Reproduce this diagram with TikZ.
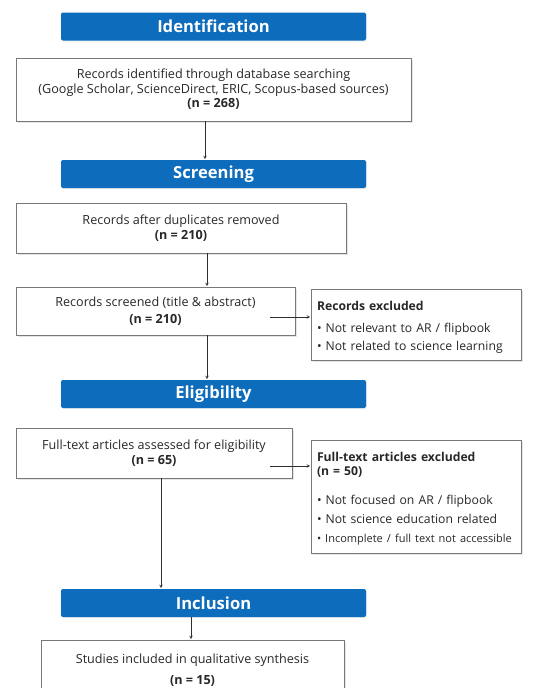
\documentclass[tikz,border=0pt]{standalone}
\usepackage{fontspec}
\setmainfont{Open Sans}
\usetikzlibrary{positioning, arrows, shadows}
\usepackage{xcolor}
\definecolor{prismablue}{RGB}{14,108,188}
\definecolor{edgegray}{RGB}{120,120,120}
\definecolor{linegray}{RGB}{45,45,45}
\definecolor{inkgray}{RGB}{40,40,40}

\begin{document}
\begin{tikzpicture}[
    x=1pt,
    y=-1pt,
    >=stealth,
    semithick,
    font=\fontsize{12.6}{14.5}\selectfont
]

\tikzstyle{phase}=[
    fill=prismablue,
    rounded corners=2pt,
    minimum width=305pt,
    minimum height=28pt,
    text=white,
    font=\fontsize{16.6}{18}\selectfont\bfseries,
    drop shadow={opacity=0.15, shadow xshift=1pt, shadow yshift=-1pt}
]
\tikzstyle{record}=[
    draw=edgegray,
    fill=white,
    line width=0.6pt,
    text=inkgray,
    align=center,
    inner sep=0pt,
    drop shadow={opacity=0.2, shadow xshift=1.5pt, shadow yshift=-1.5pt}
]
\tikzstyle{excluded}=[
    record,
    align=left,
    text width=198pt,
    inner xsep=6pt,
    font=\fontsize{12.2}{19}\selectfont
]
\tikzstyle{flow}=[
    ->,
    draw=linegray,
    shorten >=0.5pt
]

\useasboundingbox (0,0) rectangle (557,688);

% stages
\node[phase] (ident) at (213.5,26.5) {Identification};
\node[phase] (screen) at (213.5,174) {Screening};
\node[phase] (elig) at (213.5,394) {Eligibility};
\node[phase] (incl) at (213.5,603) {Inclusion};

% records
\node[record, minimum width=395pt, minimum height=63pt] (found) at (213.5,89.5)
    {Records identified through database searching\\
     (Google Scholar, ScienceDirect, ERIC, Scopus-based sources)\\
     \textbf{(n = 268)}};
\node[record, minimum width=330pt, minimum height=50pt] (dedup) at (181,228)
    {Records after duplicates removed\\ \textbf{(n = 210)}};
\node[record, minimum width=279pt, minimum height=48pt] (screened) at (155.5,311)
    {Records screened (title \& abstract)\\[2pt] \textbf{(n = 210)}};
\node[excluded, minimum height=71pt] (exclA) at (416,324.5)
    {\rule{0pt}{14pt}\textbf{Records excluded}\\[3pt]
     \textbullet\ Not relevant to AR / flipbook\\[-1pt]
     \textbullet\ Not related to science learning};
\node[record, minimum width=276pt, minimum height=50pt] (fulltext) at (154,453)
    {Full-text articles assessed for eligibility\\ \textbf{(n = 65)}};
\node[excluded, minimum height=113pt] (exclB) at (416,496.5)
    {\rule{0pt}{13pt}\textbf{Full-text articles excluded}\\[-5pt]
     \textbf{(n = 50)}\\[10pt]
     \textbullet\ Not focused on AR / flipbook\\
     \textbullet\ Not science education related\\
     {\fontsize{11}{12}\selectfont\textbullet\ Incomplete / full text not accessible}};
\node[record, minimum width=303pt, minimum height=62pt, text depth=4pt] (studies) at (192.5,671)
    {Studies included in qualitative synthesis\\[6pt] \textbf{(n = 15)}};

% side taps
\coordinate (tapA) at ([xshift=-25pt,yshift=-6pt]screened.east);
\coordinate (tapB) at ([xshift=-22pt,yshift=-13pt]fulltext.east);

% connectors
\draw[flow] ([xshift=-8.5pt]found.south) -- ([xshift=-8.5pt]screen.north);
\draw[flow] ([xshift=26pt]dedup.south) -- ([xshift=26pt]dedup.south |- screened.north);
\draw[flow] ([xshift=51.5pt]screened.south) -- ([xshift=51.5pt]screened.south |- elig.north);
\draw[flow] (tapA) -- (tapA -| exclA.west);
\draw[flow] (tapB) -- (tapB -| exclB.west);
\draw[flow] ([xshift=7pt]fulltext.south) -- ([xshift=7pt]fulltext.south |- incl.north);
\draw[flow] ([xshift=-22.5pt]incl.south) -- ([xshift=-22.5pt]incl.south |- studies.north);

\end{tikzpicture}
\end{document}
